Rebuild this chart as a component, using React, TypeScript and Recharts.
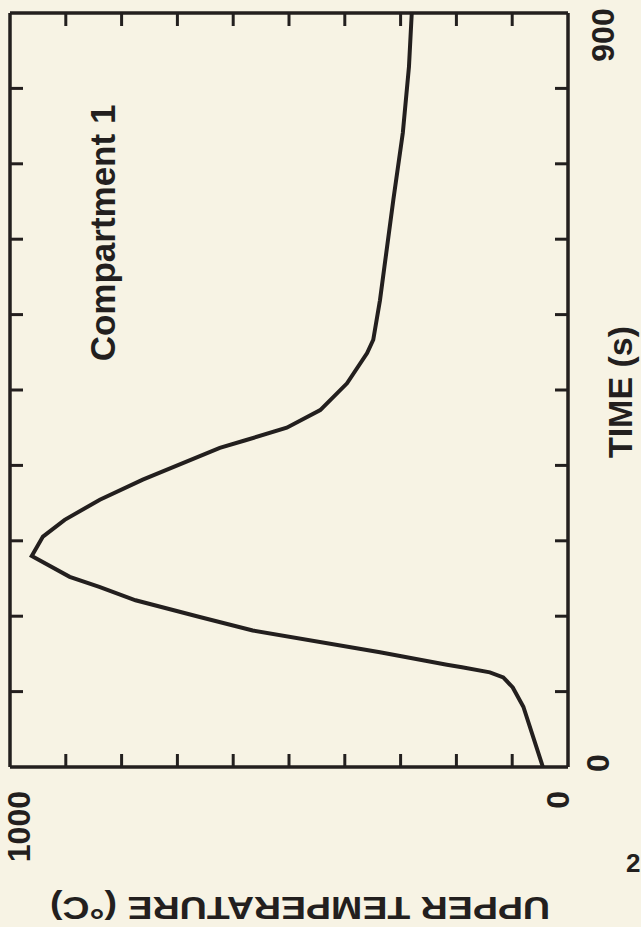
import { Scatter, ScatterChart, XAxis, YAxis } from "recharts";

// time (s) vs upper layer temperature (°C)
const TIME_S = [0, 72, 95, 107, 113, 119, 122, 137, 163, 179, 199, 215, 227, 252, 275, 295, 319, 343, 381, 390, 405, 426, 458, 494, 510, 557, 597, 677, 757, 836, 900];
const UPPER_TEMP_C = [45, 80, 99, 116, 140, 190, 217, 337, 565, 660, 775, 840, 893, 961, 941, 902, 839, 762, 624, 578, 504, 444, 396, 360, 349, 337, 329, 313, 296, 285, 280];

const TEMP_TICKS = [0, 100, 200, 300, 400, 500, 600, 700, 800, 900, 1000];
const TIME_TICKS = [0, 90, 180, 270, 360, 450, 540, 630, 720, 810, 900];
const TEMP_LABELS = [0, 1000];
const TIME_LABELS = [0, 900];

const INK = "#231f1e";
const PAPER = "#f7f3e4";
const FONT = "'Liberation Sans', Arial, sans-serif";
const TICK_LEN = 13;

const data = TIME_S.map((t, i) => ({ time: t, temp: UPPER_TEMP_C[i] }));

function VLabel({ x, y, text, size, anchor = "middle" }: any) {
  return (
    <text
      transform={`translate(${x},${y}) rotate(-90)`}
      textAnchor={anchor}
      dominantBaseline="central"
      fontFamily={FONT}
      fontWeight={700}
      fontSize={size}
      fill={INK}
    >
      {text}
    </text>
  );
}

function BottomTick({ x, y, payload }: any) {
  const v = payload.value;
  const edge = v === 0 || v === 1000;
  return (
    <g>
      {!edge && <line x1={x} y1={y} x2={x} y2={y - TICK_LEN} stroke={INK} strokeWidth={3} />}
      {TEMP_LABELS.includes(v) && <VLabel x={x + (v === 0 ? -10 : 9)} y={y + 24} text={String(v)} size={32} anchor="end" />}
    </g>
  );
}

function TopTick({ x, y, payload }: any) {
  const v = payload.value;
  if (v === 0 || v === 1000) return <g />;
  return <line x1={x} y1={y} x2={x} y2={y + TICK_LEN} stroke={INK} strokeWidth={3} />;
}

function RightTick({ x, y, payload }: any) {
  const v = payload.value;
  const edge = v === 0 || v === 900;
  return (
    <g>
      {!edge && <line x1={x} y1={y} x2={x - TICK_LEN} y2={y} stroke={INK} strokeWidth={3} />}
      {TIME_LABELS.includes(v) && <VLabel x={x + (v === 0 ? 30 : 35)} y={y + (v === 0 ? -4 : 22)} text={String(v)} size={32} />}
    </g>
  );
}

function LeftTick({ x, y, payload }: any) {
  const v = payload.value;
  if (v === 0 || v === 900) return <g />;
  return <line x1={x} y1={y} x2={x + TICK_LEN} y2={y} stroke={INK} strokeWidth={3} />;
}

export default function App() {
  const axisLine = { stroke: INK, strokeWidth: 3.5 };
  return (
    <div style={{ position: "absolute", left: 0, top: 0, width: 641, height: 927, background: PAPER, overflow: "hidden" }}>
      <ScatterChart width={641} height={927} margin={{ top: 12, right: 0, bottom: 0, left: 9 }}>
        <XAxis xAxisId="bottom" orientation="bottom" type="number" dataKey="temp" domain={[0, 1000]} reversed ticks={TEMP_TICKS} interval={0} height={160} tickSize={0} tickMargin={0} axisLine={axisLine} tickLine={false} tick={<BottomTick />} />
        <XAxis xAxisId="top" orientation="top" type="number" dataKey="temp" domain={[0, 1000]} reversed ticks={TEMP_TICKS} interval={0} height={1} tickSize={0} tickMargin={0} axisLine={axisLine} tickLine={false} tick={<TopTick />} />
        <YAxis yAxisId="right" orientation="right" type="number" dataKey="time" domain={[0, 900]} ticks={TIME_TICKS} interval={0} width={73} tickSize={0} tickMargin={0} axisLine={axisLine} tickLine={false} tick={<RightTick />} />
        <YAxis yAxisId="left" orientation="left" type="number" dataKey="time" domain={[0, 900]} ticks={TIME_TICKS} interval={0} width={1} tickSize={0} tickMargin={0} axisLine={axisLine} tickLine={false} tick={<LeftTick />} />
        <Scatter
          xAxisId="bottom"
          yAxisId="right"
          data={data}
          line={{ stroke: INK, strokeWidth: 4, fill: "none" }}
          lineJointType="linear"
          shape={() => <g />}
          isAnimationActive={false}
        />
        <Scatter xAxisId="top" yAxisId="left" data={data} shape={() => <g />} isAnimationActive={false} />
        <VLabel x={102} y={233} text="Compartment 1" size={35} />
        <VLabel x={620} y={392} text="TIME (s)" size={34} />
        <text
          transform="translate(300,908) rotate(180)"
          textAnchor="middle"
          dominantBaseline="central"
          fontFamily={FONT}
          fontWeight={700}
          fontSize={32}
          fill={INK}
          textLength={500}
          lengthAdjust="spacingAndGlyphs"
        >
          UPPER TEMPERATURE (°C)
        </text>
        <text x={626} y={872} fontFamily={FONT} fontWeight={700} fontSize={26} fill={INK}>
          2
        </text>
      </ScatterChart>
    </div>
  );
}
